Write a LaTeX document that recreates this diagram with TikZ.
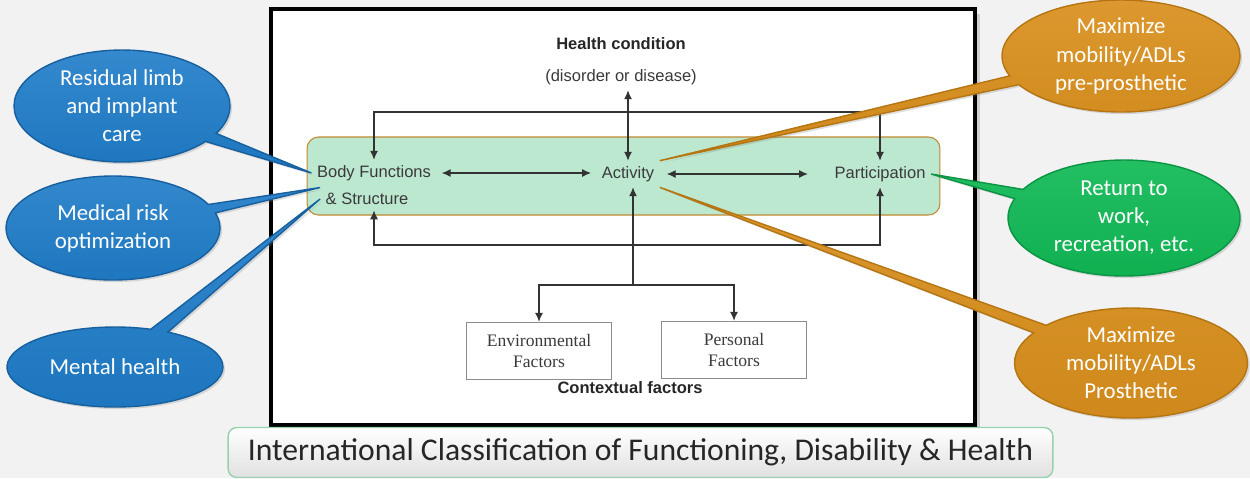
\documentclass[tikz,border=0pt]{standalone}
\usepackage{fontspec}
\setmainfont{Liberation Sans}
\newfontfamily\callfont{Carlito}
\newfontfamily\boxserif{Liberation Serif}
\usetikzlibrary{arrows.meta,positioning,shapes.callouts,shadows}
\definecolor{slidebg}{HTML}{F2F2F2}
\definecolor{bandfill}{HTML}{BDE8D0}
\definecolor{bandline}{HTML}{C08A2E}
\definecolor{calblue}{HTML}{1E7CC8}
\definecolor{calbluedk}{HTML}{17609F}
\definecolor{calorange}{HTML}{D98F1C}
\definecolor{calorangedk}{HTML}{B57513}
\definecolor{calgreen}{HTML}{10B955}
\definecolor{calgreendk}{HTML}{0B9444}
\definecolor{diagink}{HTML}{3A3A3A}
\definecolor{capline}{HTML}{96D3AC}

\begin{document}
\begin{tikzpicture}[
  x=0.02cm, y=-0.02cm,
  lbl/.style={font=\fontsize{9.4}{11}\selectfont, text=diagink, inner sep=3pt},
  hdr/.style={font=\fontsize{9.4}{11}\selectfont\bfseries, text=black!85, inner sep=3pt},
  factbox/.style={draw=black!45, line width=0.9pt, fill=white, font=\boxserif\fontsize{10}{11.5}\selectfont, align=center, minimum width=2.9cm, minimum height=1.14cm, text=diagink},
  link/.style={draw=black!80, line width=0.6pt, -{Latex[length=5pt,width=4.5pt]}},
  twoway/.style={link, {Latex[length=5pt,width=4.5pt]}-{Latex[length=5pt,width=4.5pt]}},
  bubble/.style={ellipse callout, callout pointer arc=10, inner sep=0pt, font=\callfont\fontsize{13}{16}\selectfont, text=white, align=center, line width=0.8pt, drop shadow={opacity=0.25, shadow xshift=1.2pt, shadow yshift=-1.2pt}},
  blueb/.style={bubble, draw=calbluedk, top color=calblue!90!white, bottom color=calblue!95!black},
  orangeb/.style={bubble, draw=calorangedk, top color=calorange!92!white, bottom color=calorange!95!black},
  greenb/.style={bubble, draw=calgreendk, top color=calgreen!92!white, bottom color=calgreen!95!black},
]
\useasboundingbox (0,0) rectangle (1250,478);
\fill[slidebg] (0,0) rectangle (1250,478);
\node[draw=black, line width=2.2pt, fill=white, minimum width=14.08cm, minimum height=8.32cm, drop shadow={opacity=0.3}] (frame) at (623,217) {};
\node[draw=bandline, line width=0.6pt, fill=bandfill, rounded corners=6.5pt, minimum width=12.66cm, minimum height=1.56cm] (band) at (623.5,176) {};
\node[hdr] (hc) at (621,44) {Health condition};
\node[lbl] (dis) at (621,77) {(disorder or disease)};
\node[lbl] (bf) at (374,173) {Body Functions};
\node[lbl] (bfs) at (367,199) {\& Structure};
\node[lbl] (act) at (628,174) {Activity};
\node[lbl] (part) at (880,174) {Participation};
\node[factbox] (env) at (539,351) {Environmental\\Factors};
\node[factbox] (pers) at (734,350) {Personal\\Factors};
\node[hdr] (ctx) at (630,388) {Contextual factors};
\coordinate (looptop) at (628,112);
\coordinate (loopbot) at (628,245);
\coordinate (split) at (633,285);
\draw[twoway] (act.north) -- (act.north |- dis.south);
\draw[twoway] (bf.north) |- (looptop) -| (part.north);
\draw[twoway] (bf.north |- bfs.south) |- (loopbot) -| (part.south);
\draw[twoway, shorten <=3pt, shorten >=3pt] (bf.east) -- (bf.east -| act.west);
\draw[twoway, shorten <=4pt, shorten >=12pt] (act.east) -- (act.east -| part.west);
\draw[link] (split) -- (split |- act.south);
\draw[link] (split) -| (env.north);
\draw[link] (split) -| (pers.north);
\node[blueb, minimum width=4.32cm, minimum height=2.24cm, callout absolute pointer={(bf.west)}] (limb) at (122,106) {Residual limb\\and implant\\care};
\node[blueb, minimum width=4.28cm, minimum height=2.08cm, callout absolute pointer={(bfs.north west)}] (risk) at (113,228) {Medical risk\\optimization};
\node[blueb, minimum width=4.32cm, minimum height=1.6cm, callout absolute pointer={(bfs.west)}] (mental) at (115,367) {Mental health};
\node[orangeb, minimum width=4.76cm, minimum height=2.24cm, callout absolute pointer={(act.north east)}] (prepro) at (1121,56) {Maximize\\mobility/ADLs\\pre-prosthetic};
\node[greenb, minimum width=4.64cm, minimum height=2.32cm, callout absolute pointer={(part.east)}] (work) at (1124,218) {Return to\\work,\\recreation, etc.};
\node[orangeb, minimum width=4.66cm, minimum height=2.2cm, callout absolute pointer={(act.south east)}] (pro) at (1131,363) {Maximize\\mobility/ADLs\\Prosthetic};
\node[draw=capline, line width=0.8pt, rounded corners=5pt, top color=white, bottom color=black!12, minimum width=16.5cm, minimum height=1cm, font=\callfont\fontsize{18}{20}\selectfont, text=black!85] (icf) at (640.5,452.5) {International Classification of Functioning, Disability \& Health};
\end{tikzpicture}
\end{document}
